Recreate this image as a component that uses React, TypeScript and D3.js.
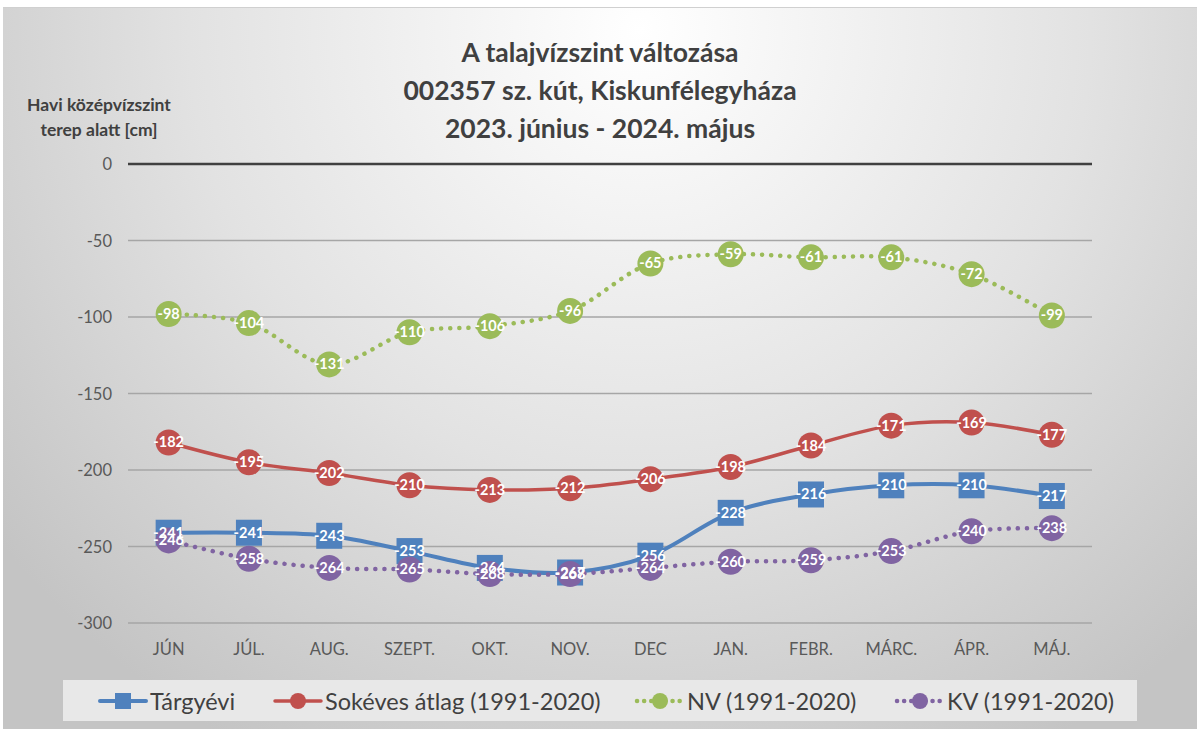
import React, { useEffect, useRef } from "react";
import * as d3 from "d3";

// havi kategóriák
const months = ["JÚN", "JÚL.", "AUG.", "SZEPT.", "OKT.", "NOV.", "DEC", "JAN.", "FEBR.", "MÁRC.", "ÁPR.", "MÁJ."];

const targyevi = [-241, -241, -243, -253, -264, -267, -256, -228, -216, -210, -210, -217];
const sokeves = [-182, -195, -202, -210, -213, -212, -206, -198, -184, -171, -169, -177];
const nv = [-98, -104, -131, -110, -106, -96, -65, -59, -61, -61, -72, -99];
const kv = [-246, -258, -264, -265, -268, -268, -264, -260, -259, -253, -240, -238];

const yTicks = [0, -50, -100, -150, -200, -250, -300];

const titleLines = ["A talajvízszint változása", "002357 sz. kút, Kiskunfélegyháza", "2023. június - 2024. május"];

const seriesNames = ["Tárgyévi", "Sokéves átlag (1991-2020)", "NV (1991-2020)", "KV (1991-2020)"];

const FONT = "Lato, 'Open Sans', sans-serif";

export default function App() {
  const ref = useRef<SVGSVGElement>(null);

  useEffect(() => {
    const W = 1197, H = 729;
    const svg = d3.select(ref.current);
    svg.selectAll("*").remove();

    const defs = svg.append("defs");
    const grad = defs.append("radialGradient")
      .attr("id", "bg")
      .attr("gradientUnits", "userSpaceOnUse")
      .attr("cx", 640).attr("cy", 30).attr("r", 820);
    grad.append("stop").attr("offset", "0%").attr("stop-color", "#ffffff");
    grad.append("stop").attr("offset", "55%").attr("stop-color", "#e2e2e2");
    grad.append("stop").attr("offset", "100%").attr("stop-color", "#c4c4c4");

    svg.append("rect").attr("width", W).attr("height", H).attr("fill", "#ffffff");
    svg.append("rect")
      .attr("x", 3).attr("y", 7).attr("width", W - 3).attr("height", H - 7)
      .attr("fill", "url(#bg)");
    svg.append("line")
      .attr("x1", 3).attr("x2", W).attr("y1", 7.5).attr("y2", 7.5)
      .attr("stroke", "#d0d0d0");

    // title
    svg.append("g").selectAll("text")
      .data(titleLines)
      .enter()
      .append("text")
      .attr("x", 600)
      .attr("y", (d, i) => 62 + i * 38)
      .attr("text-anchor", "middle")
      .attr("font-family", FONT)
      .attr("font-weight", "bold")
      .attr("font-size", 26.5)
      .attr("fill", "#404040")
      .text(d => d);

    // axis title
    svg.append("g").selectAll("text")
      .data(["Havi középvízszint", "terep alatt [cm]"])
      .enter()
      .append("text")
      .attr("x", 99)
      .attr("y", (d, i) => 111 + i * 25)
      .attr("text-anchor", "middle")
      .attr("font-family", FONT)
      .attr("font-weight", "bold")
      .attr("font-size", 17.5)
      .attr("fill", "#404040")
      .text(d => d);

    const x = d3.scaleBand().domain(months).range([128.5, 1092]);
    const y = d3.scaleLinear().domain([-300, 0]).range([623, 164]);
    const cx = (i: number) => (x(months[i]) as number) + x.bandwidth() / 2;

    // gridlines
    svg.append("g").selectAll("line")
      .data(yTicks)
      .enter()
      .append("line")
      .attr("x1", 128).attr("x2", 1092)
      .attr("y1", d => y(d)).attr("y2", d => y(d))
      .attr("stroke", d => d === 0 ? "#404040" : "#a6a6a6")
      .attr("stroke-width", d => d === 0 ? 2.5 : 1.3);

    svg.append("g").selectAll("text")
      .data(yTicks)
      .enter()
      .append("text")
      .attr("x", 112)
      .attr("y", d => y(d) + 6)
      .attr("text-anchor", "end")
      .attr("font-family", FONT)
      .attr("font-size", 16.5)
      .attr("fill", "#595959")
      .text(d => d);

    svg.append("g").selectAll("text")
      .data(months)
      .enter()
      .append("text")
      .attr("x", (d, i) => cx(i))
      .attr("y", 655)
      .attr("text-anchor", "middle")
      .attr("font-family", FONT)
      .attr("font-size", 16.5)
      .attr("fill", "#595959")
      .text(d => d);

    const series = [
      { values: targyevi, color: "#4f81bd", dotted: false, square: true, width: 4 },
      { values: sokeves, color: "#c0504d", dotted: false, square: false, width: 3.5 },
      { values: nv, color: "#9bbb59", dotted: true, square: false, width: 4.5 },
      { values: kv, color: "#8064a2", dotted: true, square: false, width: 4.5 },
    ];

    const line = d3.line<number>()
      .x((d, i) => cx(i))
      .y(d => y(d))
      .curve(d3.curveCatmullRom.alpha(0.5));

    series.forEach(s => {
      svg.append("path")
        .datum(s.values)
        .attr("fill", "none")
        .attr("stroke", s.color)
        .attr("stroke-width", s.width)
        .attr("stroke-linecap", "round")
        .attr("stroke-dasharray", s.dotted ? "0.1 9" : null)
        .attr("d", line);

      const g = svg.append("g");
      if (s.square) {
        g.selectAll("rect")
          .data(s.values)
          .enter()
          .append("rect")
          .attr("x", (d, i) => cx(i) - 13)
          .attr("y", d => y(d) - 13)
          .attr("width", 26).attr("height", 26)
          .attr("fill", s.color);
      } else {
        g.selectAll("circle")
          .data(s.values)
          .enter()
          .append("circle")
          .attr("cx", (d, i) => cx(i))
          .attr("cy", d => y(d))
          .attr("r", 13)
          .attr("fill", s.color);
      }
    });

    // data labels
    series.forEach(s => {
      svg.append("g").selectAll("text")
        .data(s.values)
        .enter()
        .append("text")
        .attr("x", (d, i) => cx(i))
        .attr("y", d => y(d) + 5)
        .attr("text-anchor", "middle")
        .attr("font-family", FONT)
        .attr("font-weight", "bold")
        .attr("font-size", 14.5)
        .attr("fill", "#ffffff")
        .text(d => d);
    });

    // legend
    svg.append("rect")
      .attr("x", 63).attr("y", 680).attr("width", 1074).attr("height", 41)
      .attr("fill", "#e8e8e8");

    const legendX = [100, 275, 637, 897];
    series.forEach((s, i) => {
      const lg = svg.append("g").attr("transform", `translate(${legendX[i]},701)`);
      lg.append("line")
        .attr("x1", 0).attr("x2", 46)
        .attr("stroke", s.color)
        .attr("stroke-width", s.width)
        .attr("stroke-linecap", "round")
        .attr("stroke-dasharray", s.dotted ? "0.1 7" : null);
      if (s.square) {
        lg.append("rect").attr("x", 15).attr("y", -8).attr("width", 16).attr("height", 16).attr("fill", s.color);
      } else {
        lg.append("circle").attr("cx", 23).attr("r", 8).attr("fill", s.color);
      }
      lg.append("text")
        .attr("x", 50)
        .attr("y", 9)
        .attr("font-family", FONT)
        .attr("font-size", 23.5)
        .attr("fill", "#404040")
        .text(seriesNames[i]);
    });
  }, []);

  return (
    <div style={{ position: "absolute", left: 0, top: 0 }}>
      <svg ref={ref} width={1197} height={729} style={{ display: "block" }} />
    </div>
  );
}
